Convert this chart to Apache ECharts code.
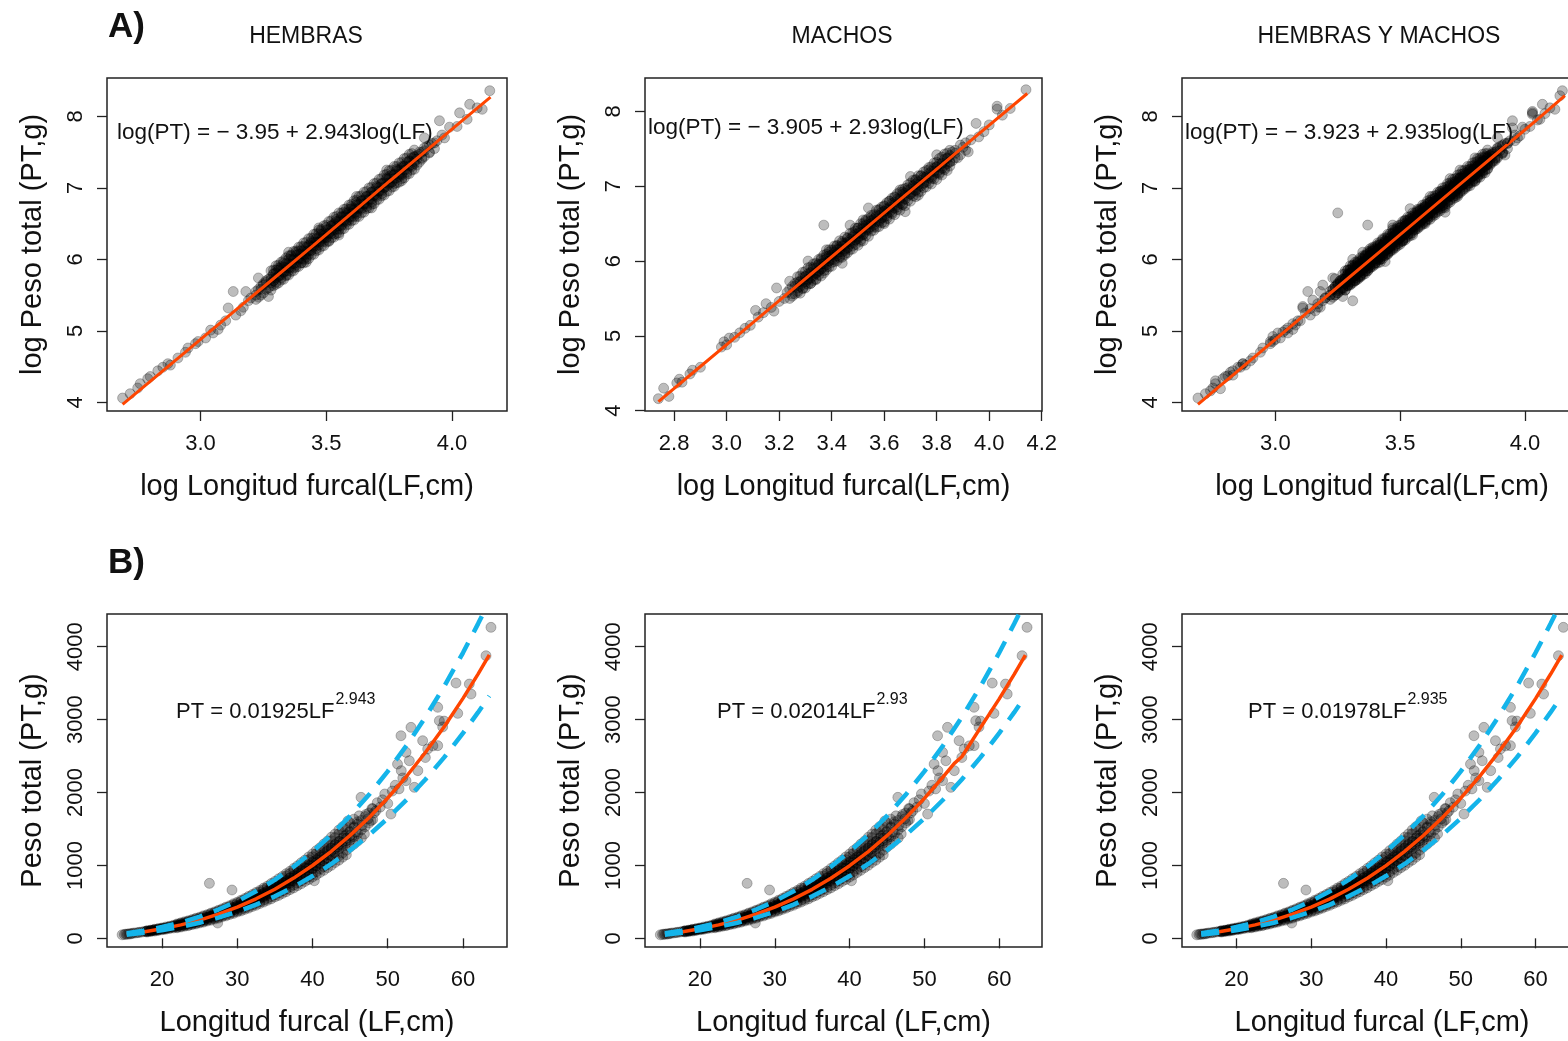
<!DOCTYPE html>
<html><head><meta charset="utf-8">
<script src="https://cdn.jsdelivr.net/npm/echarts@6/dist/echarts.min.js"></script>
<style>html,body{margin:0;padding:0;background:#fff}#c{width:1568px;height:1041px}</style>
</head><body><div id="c"></div><script>
// ---------- DATA ----------
const panelTitles = ['HEMBRAS', 'MACHOS', 'HEMBRAS Y MACHOS'];
const rowLetters = ['A)', 'B)'];
const logEquations = ['log(PT) = − 3.95 + 2.943log(LF)', 'log(PT) = − 3.905 + 2.93log(LF)', 'log(PT) = − 3.923 + 2.935log(LF)'];
const powerCoefs = ['PT = 0.01925LF', 'PT = 0.02014LF', 'PT = 0.01978LF'];
const powerExps = ['2.943', '2.93', '2.935'];

const logXName = 'log Longitud furcal(LF,cm)';
const logYName = 'log Peso total (PT,g)';
const linXName = 'Longitud furcal (LF,cm)';
const linYName = 'Peso total (PT,g)';

const logLfTicksWide = [3.0, 3.5, 4.0];
const logLfTicksMales = [2.8, 3.0, 3.2, 3.4, 3.6, 3.8, 4.0, 4.2];
const logPtTicks = [4, 5, 6, 7, 8];
const lfTicks = [20, 30, 40, 50, 60];
const ptTicks = [0, 1000, 2000, 3000, 4000];

// log(LF), log(PT) — females (sparse / individually visible points)
const femalesLog = [[2.69,4.06],[2.72,4.12],[2.75,4.20],[2.76,4.26],[2.79,4.33],[2.80,4.36],[2.83,4.44],[2.85,4.49],[2.87,4.54],[2.88,4.52],[2.91,4.62],[2.94,4.70],[2.95,4.76],[2.98,4.82],[2.99,4.85],[3.02,4.90],[3.04,5.01],[3.05,4.97],[3.07,5.02],[3.08,5.08],[3.10,5.14],[3.11,5.32],[3.13,5.55],[3.14,5.22],[3.16,5.28],[3.17,5.33],[3.18,5.55],[3.19,5.42],[3.20,5.46],[3.22,5.50],[3.23,5.74],[3.24,5.58],[3.25,5.64],[3.27,5.48],[3.26,5.70],
[3.28,5.72],[3.28,5.63],[3.29,5.80],[3.29,5.70],[3.30,5.68],[3.30,5.85],[3.31,5.77],[3.31,5.88],[3.32,5.74],[3.32,5.90],[3.33,5.82],[3.33,5.95],[3.34,5.78],[3.34,5.88],[3.35,6.00],[3.35,5.84],[3.36,5.93],[3.36,6.05],[3.37,5.88],[3.37,5.99],[3.38,6.10],[3.38,5.92],[3.39,6.02],[3.39,6.12],[3.40,5.95],[3.40,6.08],[3.41,6.00],[3.41,6.18],[3.42,6.10],[3.42,6.03],[3.43,6.20],[3.43,6.07],[3.44,6.25],[3.44,6.12],[3.45,6.20],[3.45,6.30],[3.46,6.15],[3.46,6.24],[3.47,6.36],[3.47,6.20],[3.48,6.28],[3.48,6.40],[3.49,6.25],[3.49,6.33],[3.50,6.45],[3.50,6.30],[3.51,6.37],[3.51,6.26],[3.52,6.47],[3.52,6.40],[3.53,6.35],[3.53,6.50],[3.54,6.46],[3.54,6.56],[3.55,6.42],[3.55,6.52],[3.56,6.60],[3.56,6.47],[3.57,6.55],[3.57,6.66],[3.58,6.52],[3.58,6.62],[3.59,6.70],[3.59,6.55],[3.60,6.64],[3.60,6.74],[3.61,6.60],[3.61,6.69],[3.62,6.80],[3.62,6.64],[3.63,6.73],[3.64,6.82],[3.64,6.70],[3.65,6.78],[3.66,6.88],[3.66,6.74],[3.67,6.85],[3.68,6.94],[3.68,6.80],[3.69,6.90],[3.70,7.02],[3.70,6.88],[3.71,6.96],[3.72,7.06],[3.72,6.92],[3.73,7.00],[3.74,7.14],[3.75,7.05],[3.75,7.16],[3.76,7.08],[3.77,7.18],[3.77,7.06],[3.78,7.26],[3.79,7.16],[3.80,7.28],[3.80,7.18],[3.81,7.30],[3.82,7.22],[3.83,7.38],[3.84,7.30],[3.85,7.44],[3.85,7.34],[3.86,7.40],
[3.87,7.47],[3.88,7.40],[3.89,7.52],[3.89,7.70],[3.90,7.58],[3.91,7.50],[3.92,7.62],[3.94,7.66],[3.95,7.94],[3.96,7.74],[3.97,7.70],[3.99,7.85],[4.02,7.86],[4.03,8.05],[4.06,7.96],[4.07,8.17],[4.10,8.12],[4.12,8.10],[4.15,8.36]];
// females, dense part of the cloud: [log LF, log PT values at that LF...]
const femalesDenseRows = [
[3.22,5.44,5.55],[3.23,5.47,5.58],[3.24,5.50,5.62],[3.25,5.53,5.66],[3.26,5.58,5.68],[3.27,5.60,5.72],
[3.28,5.57,5.67,5.75,5.84],[3.29,5.63,5.70,5.79,5.85],[3.30,5.65,5.74,5.81,5.91],[3.31,5.67,5.76,5.85,5.92],[3.32,5.71,5.78,5.88,5.96],
[3.33,5.72,5.82,5.89,5.98],[3.34,5.77,5.84,5.94,6.02],[3.35,5.78,5.88,5.95,6.05,6.10],[3.36,5.83,5.89,6.00,6.06],[3.37,5.84,5.94,6.01,6.11],
[3.38,5.89,5.95,6.06,6.12],[3.39,5.90,6.00,6.07,6.17],[3.40,5.95,6.01,6.12,6.18],[3.41,5.95,6.06,6.12,6.23],[3.42,5.96,6.00,6.07,6.17,6.24],
[3.43,6.01,6.12,6.18,6.29],[3.44,6.06,6.13,6.23,6.30],[3.45,6.07,6.18,6.24,6.35],[3.46,6.12,6.19,6.29,6.36],[3.47,6.13,6.24,6.30,6.41,6.44],
[3.48,6.18,6.25,6.35,6.42],[3.49,6.19,6.30,6.36,6.47],[3.50,6.24,6.31,6.41,6.48],[3.51,6.25,6.36,6.42,6.53],[3.52,6.30,6.36,6.47,6.54],
[3.53,6.31,6.41,6.48,6.59],[3.54,6.36,6.42,6.53,6.60],[3.55,6.34,6.37,6.47,6.54,6.65],[3.56,6.42,6.48,6.59,6.65],[3.57,6.43,6.53,6.60,6.70],
[3.58,6.48,6.54,6.65,6.71],[3.59,6.49,6.59,6.66,6.76],[3.60,6.54,6.60,6.71,6.77],[3.61,6.55,6.65,6.71,6.82],[3.62,6.60,6.66,6.76,6.83,6.88],
[3.63,6.60,6.71,6.77,6.88],[3.64,6.65,6.72,6.82,6.89],[3.65,6.66,6.77,6.83,6.94],[3.66,6.71,6.78,6.88,6.95],[3.67,6.72,6.83,6.89,7.00],
[3.68,6.72,6.77,6.84,6.94,7.01],[3.69,6.78,6.89,6.95,7.06],[3.70,6.83,6.90,7.00,7.07],[3.71,6.84,6.95,7.01,7.12],[3.72,6.89,6.96,7.06,7.13],
[3.73,6.90,7.01,7.07,7.18],[3.74,6.95,7.02,7.12,7.19,7.25],[3.75,6.96,7.07,7.13,7.24],[3.76,7.01,7.08,7.18,7.25],[3.77,7.02,7.13,7.19,7.30],
[3.78,7.07,7.14,7.24,7.30],[3.79,7.08,7.19,7.25,7.35],[3.80,7.10,7.13,7.20,7.30,7.36],[3.81,7.14,7.25,7.31,7.41],[3.82,7.19,7.26,7.36,7.42],
[3.83,7.20,7.31,7.37,7.47],[3.84,7.25,7.32,7.42,7.48],[3.85,7.26,7.37,7.43,7.53],
[3.86,7.32,7.45],[3.87,7.36,7.50],[3.88,7.42,7.50],[3.89,7.44,7.56],[3.91,7.49,7.60],[3.93,7.55,7.63]];

// log(LF), log(PT) — males (sparse / individually visible points)
const malesLog = [[2.74,4.16],[2.76,4.30],[2.78,4.19],[2.81,4.37],[2.82,4.42],[2.83,4.38],[2.86,4.49],[2.87,4.54],[2.90,4.58],[2.98,4.85],[2.99,4.92],[3.00,4.88],[3.01,4.97],[3.03,4.98],[3.05,5.04],[3.07,5.10],[3.09,5.14],[3.11,5.34],[3.12,5.25],[3.14,5.31],[3.15,5.43],[3.17,5.38],[3.18,5.33],[3.19,5.64],[3.20,5.46],[3.22,5.50],[3.23,5.58],[3.24,5.73],[3.25,5.56],[3.26,5.66],[3.27,5.60],
[3.28,5.72],[3.29,5.64],[3.30,5.80],[3.30,5.69],[3.31,6.00],[3.31,5.76],[3.32,5.85],[3.32,5.70],[3.33,5.80],[3.33,5.91],[3.34,5.84],[3.34,5.76],[3.35,5.96],[3.35,5.86],[3.36,5.90],[3.36,6.02],[3.37,6.48],[3.37,5.84],[3.37,5.97],[3.38,6.06],[3.38,5.92],[3.39,6.00],[3.39,6.12],[3.40,5.98],[3.40,6.08],[3.41,6.15],[3.41,6.02],[3.42,6.10],[3.42,6.20],[3.43,6.06],[3.43,6.16],[3.44,5.97],[3.44,6.24],[3.45,6.14],[3.45,6.22],[3.46,6.30],[3.46,6.17],[3.47,6.26],[3.47,6.48],[3.48,6.20],[3.48,6.34],[3.49,6.28],[3.49,6.40],[3.50,6.32],[3.50,6.44],[3.51,6.26],[3.51,6.38],[3.52,6.47],[3.52,6.35],[3.53,6.42],[3.53,6.53],[3.54,6.71],[3.54,6.44],[3.55,6.50],[3.55,6.58],[3.56,6.45],[3.56,6.55],[3.57,6.62],[3.58,6.52],[3.58,6.68],[3.59,6.58],[3.60,6.66],[3.60,6.74],[3.61,6.60],[3.62,6.70],[3.62,6.80],[3.63,6.65],[3.64,6.76],[3.64,6.86],[3.65,6.72],[3.66,6.82],[3.67,6.92],[3.67,6.76],[3.68,6.66],[3.68,6.88],[3.69,6.98],[3.70,7.13],[3.70,6.90],[3.71,7.00],[3.72,6.94],[3.72,7.08],[3.73,7.02],[3.74,7.14],[3.75,7.04],[3.76,7.12],[3.77,7.22],[3.78,7.10],[3.79,7.20],[3.80,7.42],[3.80,7.26],[3.81,7.18],[3.82,7.30],[3.83,7.24],[3.84,7.38],[3.85,7.32],
[3.87,7.44],[3.88,7.38],[3.90,7.52],[3.92,7.46],[3.93,7.62],[3.95,7.84],[3.96,7.66],[3.98,7.73],[4.00,7.82],[4.03,8.07],[4.03,8.03],[4.05,7.95],[4.08,8.04],[4.14,8.29]];
// males, dense part of the cloud
const malesDenseRows = [
[3.24,5.50,5.62],[3.25,5.53,5.66],[3.26,5.56,5.70],
[3.27,5.58,5.64,5.72,5.79],[3.28,5.57,5.66,5.73,5.80],[3.29,5.63,5.71,5.78,5.85],[3.30,5.64,5.72,5.79,5.86],[3.31,5.69,5.75,5.83,5.91],
[3.32,5.70,5.77,5.84,5.92],[3.33,5.74,5.82,5.89,5.96],[3.34,5.75,5.83,5.91,5.97],[3.35,5.81,5.87,5.95,6.02],[3.36,5.80,5.89,5.96,6.04],
[3.37,5.87,5.93,6.01,6.08],[3.38,5.88,5.95,6.03,6.09,6.15],[3.39,5.92,6.00,6.07,6.15],[3.40,5.93,6.02,6.08,6.15],[3.41,5.99,6.06,6.12,6.20],
[3.42,6.00,6.07,6.15,6.21],[3.43,6.04,6.12,6.19,6.27],[3.44,6.05,6.12,6.20,6.26],[3.45,6.08,6.10,6.16,6.24,6.32],[3.46,6.11,6.18,6.25,6.31],
[3.47,6.15,6.23,6.29,6.37],[3.48,6.16,6.24,6.32,6.38],[3.49,6.22,6.28,6.36,6.44],[3.50,6.21,6.30,6.37,6.44],[3.51,6.28,6.34,6.42,6.50],
[3.52,6.27,6.36,6.44,6.50,6.55],[3.53,6.34,6.40,6.48,6.55],[3.54,6.33,6.42,6.49,6.57],[3.55,6.40,6.46,6.54,6.61],[3.56,6.41,6.48,6.56,6.62],
[3.57,6.45,6.53,6.60,6.68],[3.58,6.46,6.54,6.61,6.69],[3.59,6.51,6.57,6.65,6.72],[3.60,6.50,6.52,6.59,6.67,6.73],[3.61,6.57,6.64,6.70,6.78],
[3.62,6.56,6.65,6.72,6.80],[3.63,6.63,6.69,6.77,6.84],[3.64,6.62,6.71,6.79,6.85],[3.65,6.69,6.75,6.83,6.90],[3.66,6.68,6.77,6.84,6.92,6.95],
[3.67,6.75,6.81,6.89,6.96],[3.68,6.74,6.83,6.91,6.97],[3.69,6.81,6.87,6.95,7.02],[3.70,6.80,6.89,6.96,7.04],[3.71,6.87,6.93,7.01,7.08],
[3.72,6.86,6.95,7.03,7.09],[3.73,6.88,6.92,6.99,7.06,7.14],[3.74,6.93,7.00,7.08,7.14],[3.75,6.98,7.04,7.12,7.19],[3.76,6.99,7.06,7.13,7.21],
[3.77,7.04,7.11,7.17,7.25],[3.78,7.03,7.12,7.20,7.26],[3.79,7.10,7.16,7.24,7.31],[3.80,7.09,7.18,7.26,7.32],[3.81,7.16,7.22,7.30,7.37],
[3.82,7.15,7.24,7.31,7.39],[3.83,7.22,7.28,7.36,7.43],[3.84,7.21,7.30,7.37,7.44],[3.85,7.27,7.33,7.41,7.48],
[3.86,7.34,7.46],[3.87,7.38,7.48],[3.89,7.42,7.55],[3.91,7.48,7.58]];

// log(LF), log(PT) — fish that appear only in the pooled panel
const pooledExtraLog = [[3.25,6.65],[3.31,5.42],[3.36,5.84],[3.45,6.16],[3.58,6.58],[3.66,6.80],[3.74,7.04]];

// fitted lines (log scale)
const fitLogF = [[2.69,3.97],[2.85,4.44],[3.0,4.88],[3.15,5.32],[3.3,5.76],[3.45,6.20],[3.6,6.645],[3.75,7.09],[3.9,7.53],[4.05,7.97],[4.153,8.27]];
const fitLogM = [[2.74,4.12],[2.9,4.59],[3.05,5.03],[3.2,5.47],[3.35,5.91],[3.5,6.35],[3.65,6.79],[3.8,7.23],[3.95,7.67],[4.145,8.24]];
const fitLogFM = [[2.69,3.97],[2.85,4.44],[3.0,4.88],[3.15,5.32],[3.3,5.76],[3.45,6.20],[3.6,6.64],[3.75,7.08],[3.9,7.52],[4.05,7.96],[4.16,8.29]];

// LF (cm), PT (g) observations — individually visible points
const lfPt = [[14.7,48],[15.0,52],[15.2,58],[15.4,55],[15.6,62],[15.8,60],[16.0,66],[16.2,72],[16.5,74],[16.8,78],[17.0,83],[17.3,86],[17.6,92],[17.9,96],[18.2,98],[18.5,105],[18.8,110],[19.0,116],[19.3,115],[19.6,124],[20.0,134],[20.3,128],[20.6,142],[21.0,152],[21.4,158],[21.8,170],[22.1,175],[22.5,186],[22.9,190],[23.2,205],[23.6,212],[24.0,226],[24.3,218],[24.7,240],[25.0,258],[25.3,262],[25.6,250],[25.9,285],[26.2,290],[26.3,754],[26.5,300],[26.8,318],[27.0,305],[27.2,335],[27.4,210],[27.6,340],[27.9,362],[28.1,338],[28.3,372],[28.5,392],[28.7,360],[29.0,400],[29.2,382],[29.3,663],[29.5,418],[29.7,395],[30.0,445],[30.2,420],[30.4,460],[30.6,438],[30.8,482],[31.0,455],[31.2,498],[31.4,470],[31.6,520],[31.8,492],[32.0,540],[32.2,505],[32.4,560],[32.6,530],[32.8,585],[33.0,548],[33.2,600],[33.4,575],[33.6,625],[33.8,592],[34.0,650],[34.2,612],[34.4,675],[34.6,640],[34.8,700],[35.0,655],[35.2,720],[35.4,680],[35.6,748],[35.8,705],[36.0,770],[36.2,720],[36.5,790],[36.8,760],[37.0,830],[37.3,790],[37.6,860],[37.9,820],[38.1,900],[38.4,850],[38.7,935],[39.0,880],[39.2,970],[39.5,920],[39.8,1010],[40.0,960],[40.2,1060],[40.25,790],[40.5,1000],[40.8,1100],[41.0,1040],[41.3,1140],[41.6,1090],[41.9,1190],[42.2,1140],[42.5,1240],[42.8,1180],[43.0,1290],[43.3,1250],[43.6,1330],[43.9,1280],[44.2,1400],[44.5,1340],[44.7,1610],[44.9,1460],[45.2,1390],[45.5,1530],[45.8,1460],[46.0,1600],[46.2,1680],[46.45,1934],[46.6,1550],[46.9,1431],[47.1,1700],[47.4,1640],[47.78,1613],[47.9,1780],[48.2,1720],[48.44,1750],[48.6,1860],[49.0,1800],[49.3,1900],[49.6,1980],[50.0,1850],[50.43,1705],[50.6,2020],[51.0,2100],[51.3,2390],[51.5,2050],[51.76,2779],[51.8,2300],[52.0,2200],[52.43,2551],[52.43,2162],[52.87,2436],[53.09,2894],[53.54,2071],[54.0,2300],[54.64,2711],[55.0,2480],[55.31,2597],[56.0,2640],[56.64,3169],[56.64,2643],[56.86,2985],[57.3,2900],[57.5,2980],[59.07,3502],[59.30,3086],[60.84,3488],[61.07,3351],[63.06,3877],[63.72,4266]];
// LF (cm), PT (g) — dense part of the cloud: [LF, PT values at that LF...]
const lfPtDenseRows = [
[18,86,93,99,105],[18.5,94,100,108,112],[19,99,109,115,124],[19.5,108,117,124,134],[20,117,124,136,143],
[20.5,124,135,144,156],[21,134,143,157,165],[21.5,142,155,165,179],[22,153,163,180,190,145,172,198],[22.5,162,176,190,205,155,185,212],
[23,174,186,204,217,166,195,228],[23.5,184,200,216,233,174,210,241],[24,197,211,231,246,188,221,257],[24.5,208,226,244,264,197,238,275],[25,222,237,260,278,211,249,290],
[25.5,234,254,275,297,222,267,309],[26,249,267,293,313,237,280,325],[26.5,262,285,308,333,248,299,346],[27,279,299,328,350,265,313,363],[27.5,292,317,344,372,277,333,385],
[28,310,333,365,390,295,348,405],[28.5,325,353,382,413,308,370,428],[29,344,369,404,433,327,386,448],[29.5,359,390,423,457,341,409,474],[30,380,408,446,478,361,427,496],
[30.5,397,430,467,504,376,452,523],[31,418,449,491,527,397,470,546],[31.5,437,473,513,555,414,497,575],[32,459,493,540,579,436,516,600],[32.5,478,518,562,608,453,544,630],
[33,502,540,590,634,477,565,656],[33.5,523,567,616,665,497,595,689],[34,548,590,644,692,521,617,716],[34.5,571,618,671,725,541,649,751],[35,597,643,702,754,568,672,781],
[35.5,621,672,730,788,589,705,817],[36,649,698,762,819,616,730,848],[36.5,674,730,792,855,639,766,887],[37,703,757,826,888,668,791,919],[37.5,729,789,858,926,692,829,959],
[38,760,818,893,960,722,855,994],[38.5,789,853,927,1000,748,896,1037],[39,821,884,965,1037,780,923,1073],[39.5,850,919,999,1078,806,966,1117],[40,885,953,1040,1118,841,996,1157],
[40.5,915,990,1076,1161,868,1040,1203],[41,951,1024,1117,1201,903,1070,1243],[41.5,984,1064,1156,1247,933,1117,1293],[42,1021,1100,1200,1290,970,1149,1335],[42.5,1055,1141,1240,1338,1001,1198,1387],
[43,1094,1178,1285,1382,1040,1231,1431],[43.5,1130,1221,1328,1432,1072,1283,1485],[44,1171,1261,1376,1480,1113,1318,1531],[44.5,1209,1306,1420,1532,1147,1372],[45,1251,1347,1469,1580,1408],
[45.5,1290,1394,1516,1635],[46,1334,1438,1568],[46.5,1377,1488,1618],[47,1531,1670],[47.5,1582,1720],
[48,1629,1776]];

// fitted curves (red) and interval curves (blue dashed)
const fitPtF = [[15.3,59],[17.5,88],[20,130],[22.5,184],[25,250],[27.5,332],[30,428],[32.5,542],[35,674],[37.5,826],[40,999],[42.5,1194],[45,1412],[47.5,1655],[50,1925],[52.5,2223],[55,2549],[57.5,2903],[60,3292],[62,3625],[63.5,3887]];
const fitPtM = [[15.3,59],[17.5,88],[20,130],[22.5,184],[25,250],[27.5,332],[30,428],[32.5,541],[35,672],[37.5,824],[40,996],[42.5,1190],[45,1408],[47.5,1650],[50,1920],[52.5,2215],[54,2400],[55,2490],[57.5,2890],[60,3285],[62,3620],[63.5,3885]];
const fitPtFM = [[15.3,59],[17.5,88],[20,130],[22.5,184],[25,250],[27.5,332],[30,428],[32.5,541],[35,673],[37.5,825],[40,997],[42.5,1192],[45,1410],[47.5,1652],[50,1922],[52.5,2219],[55,2545],[57.5,2898],[60,3288],[62,3622],[63.5,3886]];
const upperPt = [[15.3,70],[17.5,104],[20,155],[22.5,218],[25,298],[27.5,395],[30,509],[32.5,645],[35,802],[37.5,982],[40,1189],[42.5,1420],[45,1680],[47.5,1969],[50,2291],[52.5,2645],[55,3033],[57.5,3455],[60,3917],[62,4314],[63.5,4626]];
const lowerPt = [[15.3,50],[17.5,75],[20,111],[22.5,157],[25,214],[27.5,283],[30,366],[32.5,463],[35,576],[37.5,706],[40,854],[42.5,1020],[45,1207],[47.5,1415],[50,1646],[52.5,1901],[55,2179],[57.5,2482],[60,2815],[62,3099],[63.5,3323]];

// ---------- LAYOUT / STYLE ----------
const FONT = '"Liberation Sans", Arial, Helvetica, sans-serif';
const INK = '#111';
const RED = '#FF4500';
const BLUE = '#14B4EA';

const rowsToPairs = (rows) => rows.flatMap(r => r.slice(1).map(v => [r[0], v]));
const femalesAll = femalesLog.concat(rowsToPairs(femalesDenseRows));
const malesAll = malesLog.concat(rowsToPairs(malesDenseRows));
const pooledAll = femalesAll.concat(malesAll, pooledExtraLog);
const lfPtAll = lfPt.concat(rowsToPairs(lfPtDenseRows));

const grids = [
  {left:107, top:78, width:400, height:333},
  {left:645, top:78, width:397, height:333},
  {left:1182, top:78, width:400, height:333},
  {left:107, top:614, width:400, height:333},
  {left:645, top:614, width:397, height:333},
  {left:1182, top:614, width:400, height:333}
];
const panels = [
  {x:[2.628,4.2185], y:[3.878,8.538], xt:logLfTicksWide, yt:logPtTicks, xn:logXName, yn:logYName, dec:1},
  {x:[2.689,4.201], y:[3.995,8.447], xt:logLfTicksMales, yt:logPtTicks, xn:logXName, yn:logYName, dec:1},
  {x:[2.626,4.2286], y:[3.878,8.538], xt:logLfTicksWide, yt:logPtTicks, xn:logXName, yn:logYName, dec:1},
  {x:[12.69,65.85], y:[-119,4449], xt:lfTicks, yt:ptTicks, xn:linXName, yn:linYName, dec:0},
  {x:[12.65,65.72], y:[-119,4449], xt:lfTicks, yt:ptTicks, xn:linXName, yn:linYName, dec:0},
  {x:[12.73,66.21], y:[-119,4449], xt:lfTicks, yt:ptTicks, xn:linXName, yn:linYName, dec:0}
];

const tickStyle = {color:'#222', width:1.3};
const xAxes = panels.map((p, i) => ({
  gridIndex:i, type:'value', min:p.x[0], max:p.x[1],
  axisLine:{show:false}, splitLine:{show:false},
  axisTick:{show:true, inside:false, length:10, lineStyle:tickStyle, customValues:p.xt},
  axisLabel:{show:true, customValues:p.xt, margin:22, fontSize:22, fontFamily:FONT, color:INK,
    formatter:(v) => Number(v).toFixed(p.dec)},
  name:p.xn, nameLocation:'middle', nameGap:61, nameMoveOverlap:false,
  nameTextStyle:{fontSize:29, fontFamily:FONT, color:INK}
}));
const yAxes = panels.map((p, i) => ({
  gridIndex:i, type:'value', min:p.y[0], max:p.y[1],
  axisLine:{show:false}, splitLine:{show:false},
  axisTick:{show:true, inside:false, length:10, lineStyle:tickStyle, customValues:p.yt},
  axisLabel:{show:true, customValues:p.yt, rotate:90, margin:20, fontSize:22, fontFamily:FONT, color:INK,
    formatter:(v) => String(Math.round(v))},
  name:p.yn, nameLocation:'middle', nameGap:60, nameRotate:90, nameMoveOverlap:false,
  nameTextStyle:{fontSize:29, fontFamily:FONT, color:INK}
}));

const pointStyle = {color:'rgba(0,0,0,0.32)', borderColor:'rgba(0,0,0,0.30)', borderWidth:1};
function scatter(i, data) {
  return {type:'scatter', xAxisIndex:i, yAxisIndex:i, data:data, symbol:'circle', symbolSize:10,
    itemStyle:pointStyle, silent:true, z:2, large:false, progressive:0};
}
function line(i, data, color, width, dash, z) {
  return {type:'line', xAxisIndex:i, yAxisIndex:i, data:data, symbol:'none', clip:true, silent:true, z:z,
    lineStyle:{color:color, width:width, type:dash || 'solid', cap:'butt'}};
}
const series = [
  scatter(0, femalesAll), line(0, fitLogF, RED, 3, null, 3),
  scatter(1, malesAll), line(1, fitLogM, RED, 3, null, 3),
  scatter(2, pooledAll), line(2, fitLogFM, RED, 3, null, 3),
];
[fitPtF, fitPtM, fitPtFM].forEach((fit, k) => {
  const i = 3 + k;
  series.push(scatter(i, lfPtAll));
  series.push(line(i, fit, RED, 3.5, null, 3));
  series.push(line(i, upperPt, BLUE, 4.5, [18, 12], 4));
  series.push(line(i, lowerPt, BLUE, 4.5, [18, 12], 4));
});

// text graphics
const mctx = document.createElement('canvas').getContext('2d');
function tw(text, font) { mctx.font = font; return mctx.measureText(text).width; }
function txt(x, y, text, font, align) {
  return {type:'text', x:x, y:y, silent:true, z:10,
    style:{text:text, font:font, fill:INK, align:align||'left', verticalAlign:'middle',
      textAlign:align||'left', textVerticalAlign:'middle'}};
}
const graphics = [];
graphics.push(txt(108, 27, rowLetters[0], 'bold 35px ' + FONT));
graphics.push(txt(108, 563, rowLetters[1], 'bold 35px ' + FONT));
const titleX = [306, 842, 1379];
panelTitles.forEach((t, k) => graphics.push(txt(titleX[k], 37, t, '23px ' + FONT, 'center')));
const eqA = [[117,133],[648,128],[1185,133]];
logEquations.forEach((t, k) => graphics.push(txt(eqA[k][0], eqA[k][1], t, '22.5px ' + FONT)));
const eqB = [[176,712],[717,712],[1248,712]];
powerCoefs.forEach((t, k) => {
  const f = '22px ' + FONT;
  graphics.push(txt(eqB[k][0], eqB[k][1], t, f));
  graphics.push(txt(eqB[k][0] + tw(t, f) + 1, eqB[k][1] - 12, powerExps[k], '16px ' + FONT));
});

const chart = echarts.init(document.getElementById('c'), null, {renderer:'canvas'});
chart.setOption({
  animation:false,
  backgroundColor:'#fff',
  grid: grids.map(g => Object.assign({show:true, borderColor:'#222', borderWidth:1.5, backgroundColor:'transparent',
    containLabel:false, outerBoundsMode:'none'}, g)),
  xAxis: xAxes,
  yAxis: yAxes,
  series: series,
  graphic: graphics
});
</script></body></html>
